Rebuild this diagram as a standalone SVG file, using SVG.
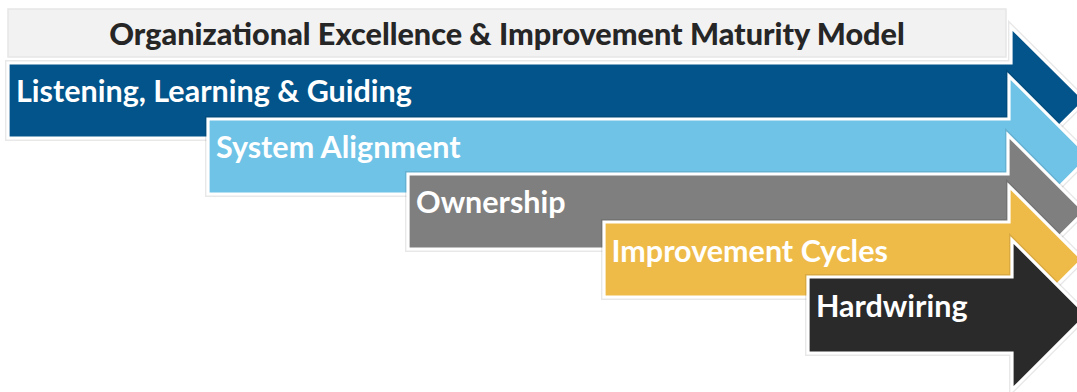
<svg xmlns="http://www.w3.org/2000/svg" xmlns:xlink="http://www.w3.org/1999/xlink" width="1077" height="392" viewBox="0 0 1077 392">
  <style>
    .halo { fill: none; stroke: #000; stroke-opacity: 0.09; stroke-width: 6; stroke-linejoin: miter; }
    .edge { stroke: #fff; stroke-width: 3.2; stroke-linejoin: miter; }
    .label { font-family: Lato, "Liberation Sans", sans-serif; font-weight: 700; font-size: 30.5px; fill: #fff; }
    .title { font-family: Lato, "Liberation Sans", sans-serif; font-weight: 900; font-size: 30.6px; fill: #262626; }
    .blue { fill: #02548a; }
    .sky { fill: #6ec3e7; }
    .grey { fill: #7f7f7f; }
    .gold { fill: #efbb48; }
    .dark { fill: #2a2a2a; }
  </style>
  <defs>
    <path id="p-blue" d="M8,63 H1011 V27 L1085,100.5 L1011,174 V138 H8 Z"/>
    <path id="p-sky" d="M208,119 H1009 V76 L1089.5,156.5 L1009,237 V194 H208 Z"/>
    <path id="p-grey" d="M408,174 H1008 V135 L1084.5,211.5 L1008,288 V249 H408 Z"/>
    <path id="p-gold" d="M604,222 H1009 V186 L1082.5,259.5 L1009,333 V297 H604 Z"/>
    <path id="p-dark" d="M808,277 H1012 V240 L1087,315 L1012,390 V353 H808 Z"/>
  </defs>

  <rect width="1077" height="392" fill="#fff"/>

  <!-- title banner -->
  <g id="title">
    <rect x="8" y="9" width="998" height="48" fill="#f2f2f2" stroke="#e6e6e6" stroke-width="1.5"/>
    <text class="title" x="507" y="44.5" text-anchor="middle">Organizational Excellence &amp; Improvement Maturity Model</text>
  </g>

  <!-- staircase of stage arrows, later stages drawn over earlier ones -->
  <g id="stage-listening">
    <use xlink:href="#p-blue" class="halo"/>
    <use xlink:href="#p-blue" class="edge blue"/>
    <text class="label" x="16" y="102">Listening, Learning &amp; Guiding</text>
  </g>
  <g id="stage-alignment">
    <use xlink:href="#p-sky" class="halo"/>
    <use xlink:href="#p-sky" class="edge sky"/>
    <text class="label" x="216" y="157.5">System Alignment</text>
  </g>
  <g id="stage-ownership">
    <use xlink:href="#p-grey" class="halo"/>
    <use xlink:href="#p-grey" class="edge grey"/>
    <text class="label" x="416" y="213">Ownership</text>
  </g>
  <g id="stage-cycles">
    <use xlink:href="#p-gold" class="halo"/>
    <use xlink:href="#p-gold" class="edge gold"/>
    <text class="label" x="611.5" y="261.5">Improvement Cycles</text>
  </g>
  <g id="stage-hardwiring">
    <use xlink:href="#p-dark" class="halo"/>
    <use xlink:href="#p-dark" class="edge dark"/>
    <text class="label" x="816" y="316.5">Hardwiring</text>
  </g>
</svg>
